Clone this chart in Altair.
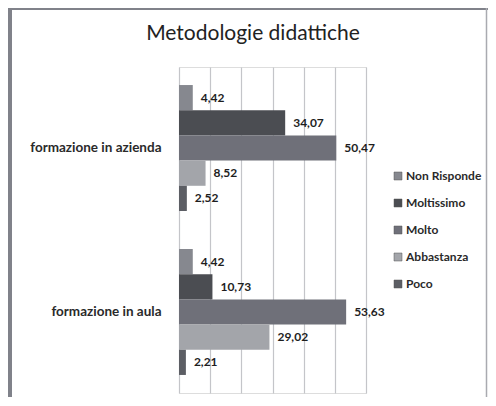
import altair as alt
import pandas as pd

title_text = "Metodologie didattiche"
categories = ["formazione in azienda", "formazione in aula"]
series = ["Non Risponde", "Moltissimo", "Molto", "Abbastanza", "Poco"]
azienda = [4.42, 34.07, 50.47, 8.52, 2.52]
aula = [4.42, 10.73, 53.63, 29.02, 2.21]
colors = ["#86888f", "#4b4d52", "#6f7079", "#a3a5aa", "#5c5e64"]
grid_values = [0, 10, 20, 30, 40, 50, 60]

rows = []
for cat, vals in zip(categories, [azienda, aula]):
    for s, v in zip(series, vals):
        rows.append({"categoria": cat, "serie": s, "valore": v})
df = pd.DataFrame(rows)

W, H = 187, 326
PAD = {"left": 171, "top": 59, "right": 122, "bottom": 4}
FONT = "Lato"

base = alt.Chart(df)

x_enc = alt.X(
    "valore:Q",
    scale=alt.Scale(domain=[0, 60], nice=False, zero=True),
    title=None,
    axis=alt.Axis(values=grid_values, grid=True, labels=False, ticks=False, domain=False,
                  gridColor="#c4c5c9", gridWidth=1.2),
)
y_enc = alt.Y(
    "categoria:N",
    sort=categories,
    title=None,
    scale=alt.Scale(paddingInner=0.232, paddingOuter=0.11),
    axis=alt.Axis(
        labelFont=FONT, labelFontSize=13.5, labelFontWeight="bold", labelColor="#2a2a2a",
        labelPadding=18, ticks=False, domain=False, labelLimit=220,
    ),
)
yoff = alt.YOffset("serie:N", sort=series, scale=alt.Scale(paddingInner=0, paddingOuter=0))

bars = base.mark_bar(cornerRadius=0).encode(
    x=x_enc,
    y=y_enc,
    yOffset=yoff,
    color=alt.Color(
        "serie:N",
        sort=series,
        scale=alt.Scale(domain=series, range=colors),
        legend=alt.Legend(
            title=None, orient="none", legendX=213, legendY=103,
            symbolType="square", symbolSize=64, symbolStrokeColor="#555555", symbolStrokeWidth=0.5,
            labelFont=FONT, labelFontSize=12, labelFontWeight="bold", labelColor="#2a2a2a",
            rowPadding=15, labelOffset=2,
        ),
    ),
)

labels = base.transform_calculate(
    lab="replace(format(datum.valore, '.2f'), '.', ',')"
).mark_text(
    align="left", baseline="middle", dx=8, font=FONT, fontSize=12, fontWeight="bold", color="#1e1e1e"
).encode(
    x=x_enc,
    y=y_enc,
    yOffset=yoff,
    text="lab:N",
)

one = alt.Chart(pd.DataFrame({"k": [0]}))
title_mark = one.mark_text(
    font=FONT, fontSize=21, color="#222222", align="center", baseline="middle"
).encode(x=alt.value(74), y=alt.value(-33), text=alt.value(title_text))
left_rule = one.mark_rule(color="#80828a", strokeWidth=4).encode(
    x=alt.value(-169), y=alt.value(-61), y2=alt.value(H + 4)
)
top_rule = one.mark_rule(color="#80828a", strokeWidth=4).encode(
    x=alt.value(-171), x2=alt.value(309), y=alt.value(-59)
)
right_rule = one.mark_rule(color="#a9aab0", strokeWidth=1.5).encode(
    x=alt.value(307.5), y=alt.value(-59), y2=alt.value(H + 4)
)

chart = alt.layer(bars, labels, title_mark, left_rule, top_rule, right_rule).properties(
    width=W,
    height=H,
    padding=PAD,
    autosize=alt.AutoSizeParams(type="none"),
).configure_view(stroke=None).configure(background="white")

chart.save("out.html", embed_options={"renderer": "svg", "actions": False})
